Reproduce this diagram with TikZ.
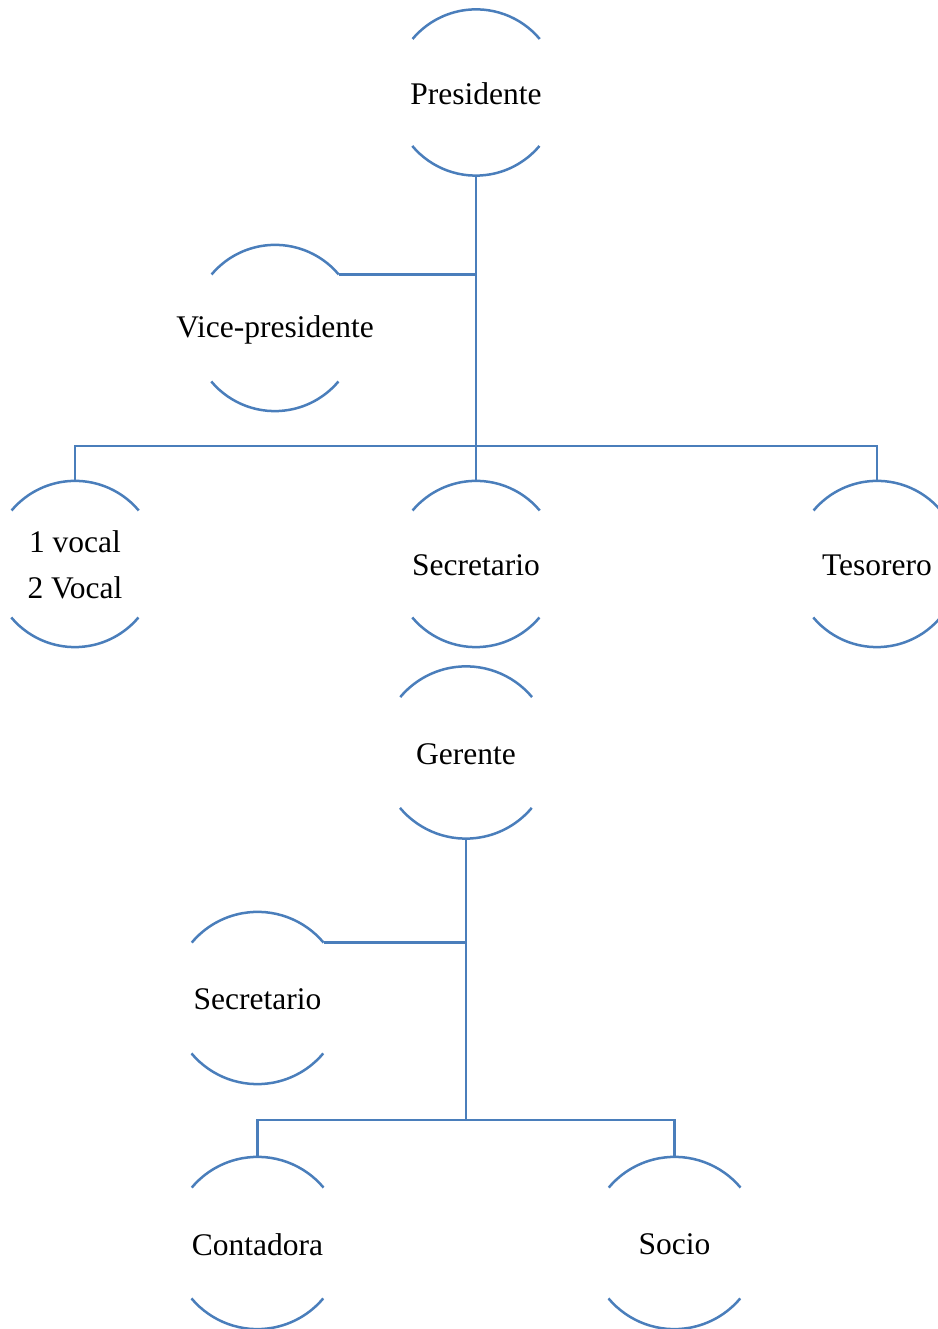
\documentclass[tikz,border=0pt]{standalone}
\usepackage{fontspec}
\setmainfont{Liberation Serif}
\definecolor{ln}{HTML}{4A7EBB}
\tikzset{
  ringA/.style={circle, minimum size=166pt, inner sep=0pt, draw=none},
  ringB/.style={circle, minimum size=172pt, inner sep=0pt, draw=none},
  lbl/.style={font=\fontsize{31.5}{46}\selectfont, align=center, inner sep=0pt},
  arcline/.style={draw=ln, line width=2.5pt},
  conn/.style={draw=ln, line width=2.5pt},
}
\newcommand{\brackA}[1]{%
  \draw[arcline] (#1.40) arc[start angle=40, end angle=140, radius=83pt];
  \draw[arcline] (#1.220) arc[start angle=220, end angle=320, radius=83pt];}
\newcommand{\brackB}[1]{%
  \draw[arcline] (#1.40) arc[start angle=40, end angle=140, radius=86pt];
  \draw[arcline] (#1.220) arc[start angle=220, end angle=320, radius=86pt];}
\begin{document}
\begin{tikzpicture}[x=1pt,y=1pt]
\useasboundingbox (0,0) rectangle (937,1329);
% first chart
\node[ringA] (pres) at (476,1236.5) {};
\node[ringA] (vp) at (275,1001) {};
\node[ringA] (voc) at (75,765) {};
\node[ringA] (sec) at (476,765) {};
\node[ringA] (tes) at (877,765) {};
\node[lbl] (tpres) at ([yshift=-1.5pt]pres) {Presidente};
\node[lbl] (tvp) at ([yshift=-1.5pt]vp) {Vice-presidente};
\node[lbl] (tvoc) at ([yshift=-1pt]voc) {1 vocal\\2 Vocal};
\node[lbl] (tsec) at ([yshift=-1.5pt]sec) {Secretario};
\node[lbl] (ttes) at ([yshift=-1.5pt]tes) {Tesorero};
\brackA{pres}\brackA{vp}\brackA{voc}\brackA{sec}\brackA{tes}
\coordinate (b1) at (476,883);
\draw[conn] (pres.south) -- (sec.north);
\draw[conn] (voc.north) |- (b1) -| (tes.north);
\draw[conn] (vp.40) -- (vp.40 -| pres.south);
% second chart
\node[ringB] (ger) at (466,576.5) {};
\node[ringB] (sec2) at (257.5,331) {};
\node[ringB] (cont) at (257.5,86) {};
\node[ringB] (soc) at (674.5,86) {};
\node[lbl] (tger) at ([yshift=-1.5pt]ger) {Gerente};
\node[lbl] (tsec2) at ([yshift=-1.5pt]sec2) {Secretario};
\node[lbl] (tcont) at ([yshift=-1.5pt]cont) {Contadora};
\node[lbl] (tsoc) at ([yshift=-1.5pt]soc) {Socio};
\brackB{ger}\brackB{sec2}\brackB{cont}\brackB{soc}
\coordinate (b2) at (466,209);
\draw[conn] (ger.south) -- (b2);
\draw[conn] (cont.north) |- (b2) -| (soc.north);
\draw[conn] (sec2.40) -- (sec2.40 -| ger.south);
\end{tikzpicture}
\end{document}
